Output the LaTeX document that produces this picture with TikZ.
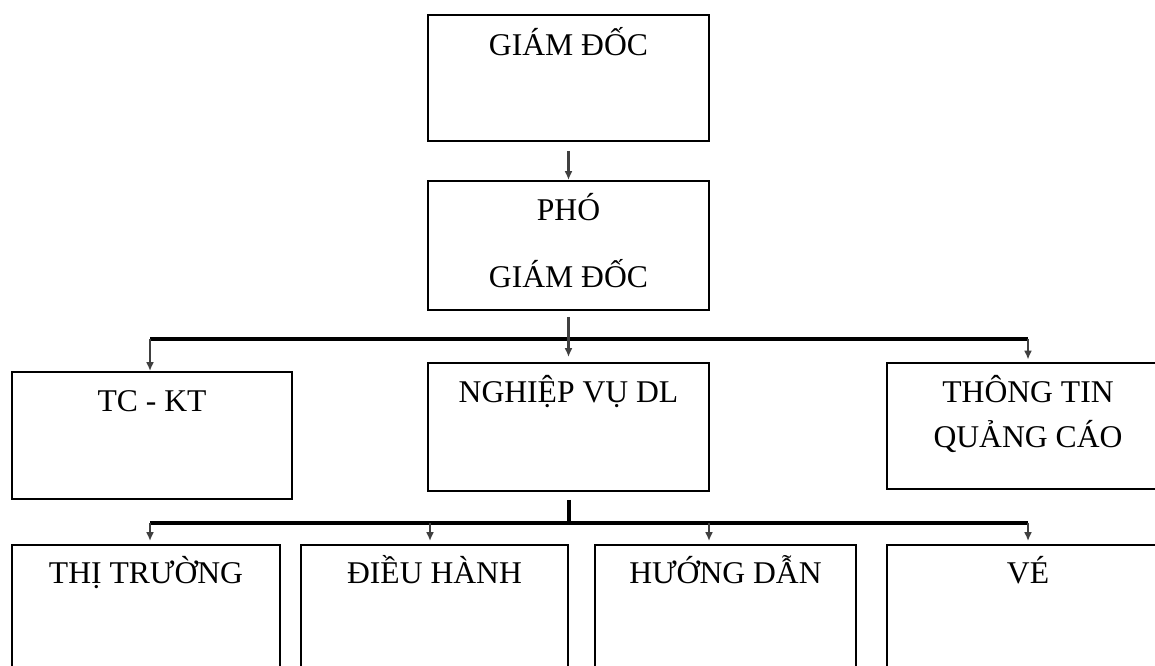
\documentclass[tikz,border=0pt]{standalone}
\usepackage{fontspec}
\setmainfont{Liberation Serif}
\usetikzlibrary{positioning,arrows.meta,calc}

\begin{document}
\begin{tikzpicture}[every node/.style={font=\fontsize{18}{22}\selectfont}]
  \tikzset{
    box/.style={draw, line width=1.1pt, inner sep=0pt},
    lbl/.style={anchor=base, inner sep=0pt},
    bar/.style={line width=2pt},
    arr/.style={line width=1.3pt, draw=black!75, -{Latex[length=5pt,width=4.5pt]}}
  }
  \useasboundingbox (0,0) rectangle (23.1,13.32);

  % boxes
  \node[box, minimum width=5.62cm, minimum height=2.52cm] (gd)   at (11.37,11.76) {};
  \node[box, minimum width=5.62cm, minimum height=2.58cm] (pgd)  at (11.37,8.41)  {};
  \node[box, minimum width=5.60cm, minimum height=2.54cm] (tckt) at (3.04,4.61)   {};
  \node[box, minimum width=5.62cm, minimum height=2.56cm] (nvdl) at (11.37,4.78)  {};
  \node[box, minimum width=5.64cm, minimum height=2.52cm] (ttqc) at (20.56,4.80)  {};
  \node[box, minimum width=5.36cm, minimum height=2.60cm] (tt)   at (2.92,1.12)   {};
  \node[box, minimum width=5.34cm, minimum height=2.60cm] (dh)   at (8.69,1.12)   {};
  \node[box, minimum width=5.22cm, minimum height=2.60cm] (hd)   at (14.51,1.12)  {};
  \node[box, minimum width=5.64cm, minimum height=2.60cm] (ve)   at (20.56,1.12)  {};

  % texts
  \node[lbl] (gdt)   at ([yshift=-0.82cm]gd.north)   {GIÁM ĐỐC};
  \node[lbl] (pgdt1) at ([yshift=-0.80cm]pgd.north)  {PHÓ};
  \node[lbl] (pgdt2) at ([yshift=-2.14cm]pgd.north)  {GIÁM ĐỐC};
  \node[lbl] (tcktt) at ([yshift=-0.80cm]tckt.north) {TC - KT};
  \node[lbl] (nvdlt) at ([yshift=-0.80cm]nvdl.north) {NGHIỆP VỤ DL};
  \node[lbl] (ttqc1) at ([yshift=-0.80cm]ttqc.north) {THÔNG TIN};
  \node[lbl] (ttqc2) at ([yshift=-1.70cm]ttqc.north) {QUẢNG CÁO};
  \node[lbl] (ttt)   at ([yshift=-0.78cm]tt.north)   {THỊ TRƯỜNG};
  \node[lbl] (dht)   at ([yshift=-0.78cm]dh.north)   {ĐIỀU HÀNH};
  \node[lbl] (hdt)   at ([yshift=-0.78cm]hd.north)   {HƯỚNG DẪN};
  \node[lbl] (vet)   at ([yshift=-0.78cm]ve.north)   {VÉ};

  % bus points
  \coordinate (b1l) at (3.0,6.54);
  \coordinate (b1r) at (20.56,6.54);
  \coordinate (b2l) at (3.0,2.86);
  \coordinate (b2a) at (8.6,2.86);
  \coordinate (b2m) at (11.38,2.86);
  \coordinate (b2b) at (14.18,2.86);
  \coordinate (b2r) at (20.56,2.86);

  % connectors
  \draw[arr] ([yshift=-0.18cm]gd.south) -- (pgd.north);
  \draw[bar] (b1l) -- (b1r);
  \draw[arr] ([yshift=-0.12cm]pgd.south) -- ([yshift=0.1cm]nvdl.north);
  \draw[arr] (b1l) -- (b1l |- tckt.north);
  \draw[arr] (b1r) -- ([yshift=0.05cm]b1r |- ttqc.north);

  \draw[bar] ([yshift=-0.16cm]nvdl.south -| b2m) -- (b2m);
  \draw[bar] (b2l) -- (b2r);
  \draw[arr] (b2l) -- ([yshift=0.06cm]b2l |- tt.north);
  \draw[arr] (b2a) -- ([yshift=0.06cm]b2a |- dh.north);
  \draw[arr] (b2b) -- ([yshift=0.06cm]b2b |- hd.north);
  \draw[arr] (b2r) -- ([yshift=0.06cm]b2r |- ve.north);
\end{tikzpicture}
\end{document}
